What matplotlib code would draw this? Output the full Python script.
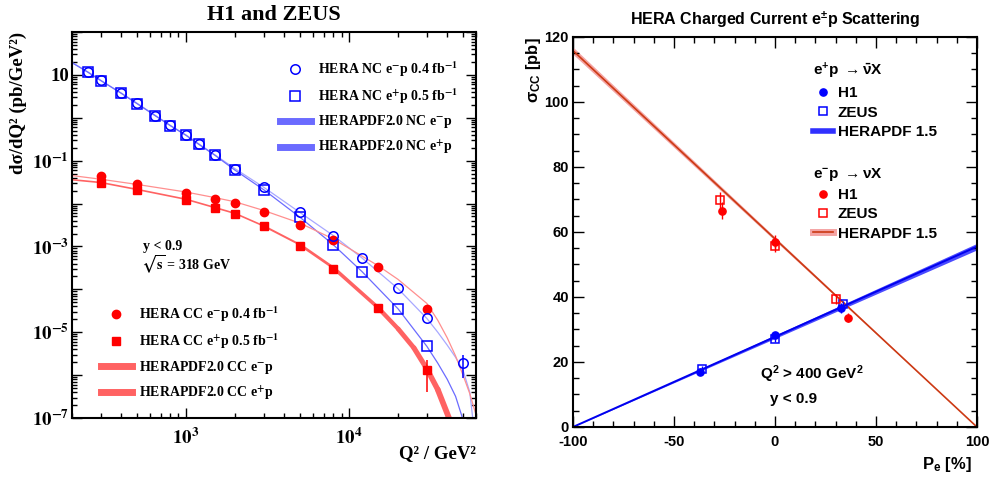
import numpy as np
import matplotlib
matplotlib.use('Agg')
import matplotlib.pyplot as plt
from matplotlib.lines import Line2D
from matplotlib.collections import LineCollection
from matplotlib.font_manager import FontProperties
from matplotlib.ticker import MultipleLocator

plt.rcParams['font.family'] = ['Liberation Sans', 'DejaVu Sans']
plt.rcParams['font.weight'] = 'bold'
plt.rcParams['axes.labelweight'] = 'bold'
plt.rcParams['axes.unicode_minus'] = False
plt.rcParams['mathtext.fontset'] = 'custom'
plt.rcParams['mathtext.rm'] = 'Liberation Sans:bold'
plt.rcParams['mathtext.it'] = 'Liberation Sans:bold'
plt.rcParams['mathtext.bf'] = 'Liberation Sans:bold'

# ---------------- left panel data: dsigma/dQ2 (pb/GeV^2) ----------------
nc_em_q2 = [250, 300, 400, 500, 650, 800, 1000, 1200, 1500, 2000, 3000, 5000, 8000, 12000, 20000, 30000, 50000]
nc_em = [11.8, 7.5, 3.8, 2.2, 1.13, 0.67, 0.40, 0.246, 0.138, 0.065, 0.024, 6.3e-3, 1.8e-3, 5.5e-4, 1.05e-4, 2.1e-5, 1.9e-6]
nc_em_err = [0, 0, 0, 0, 0, 0, 0, 0, 0, 0, 0, 0, 0, 0, 0, 0, 1.05e-6]

nc_ep_q2 = [250, 300, 400, 500, 650, 800, 1000, 1200, 1500, 2000, 3000, 5000, 8000, 12000, 20000, 30000]
nc_ep = [11.6, 7.4, 3.75, 2.15, 1.11, 0.66, 0.39, 0.24, 0.135, 0.060, 0.021, 4.8e-3, 1.1e-3, 2.6e-4, 3.5e-5, 4.9e-6]

cc_q2 = [300, 500, 1000, 1500, 2000, 3000, 5000, 8000, 15000, 30000]
cc_em = [0.044, 0.029, 0.018, 0.013, 0.0102, 0.0062, 3.2e-3, 1.45e-3, 3.4e-4, 3.4e-5]
cc_ep = [0.031, 0.021, 0.0123, 0.0078, 0.0057, 0.0030, 1.05e-3, 3.0e-4, 3.7e-5, 1.3e-6]
cc_ep_err = [0, 0, 0, 0, 0, 0, 0, 0, 0, 0.9e-6]

# HERAPDF2.0 predictions
pdf_nc_em_q2 = [200, 250, 300, 400, 500, 650, 800, 1000, 1200, 1500, 2000, 3000, 5000, 8000, 12000,
                20000, 30000, 35000, 40000, 45000, 50000, 55000, 57500]
pdf_nc_em = [19.5, 11.8, 7.5, 3.8, 2.2, 1.13, 0.67, 0.40, 0.246, 0.138, 0.065, 0.024, 6.2e-3, 1.8e-3, 5.4e-4,
             1.03e-4, 2.1e-5, 1.0e-5, 5.0e-6, 2.6e-6, 1.3e-6, 4e-7, 9e-8]
pdf_nc_ep_q2 = [200, 250, 300, 400, 500, 650, 800, 1000, 1200, 1500, 2000, 3000, 5000, 8000, 12000,
                20000, 30000, 35000, 40000, 45000, 49600]
pdf_nc_ep = [19.3, 11.6, 7.4, 3.75, 2.15, 1.11, 0.66, 0.39, 0.24, 0.135, 0.060, 0.021, 4.8e-3, 1.1e-3, 2.6e-4,
             3.5e-5, 4.7e-6, 1.9e-6, 8e-7, 3.2e-7, 1e-7]
pdf_cc_em_q2 = [200, 300, 500, 1000, 1500, 2000, 3000, 5000, 8000, 15000, 20000, 30000, 35000, 40000,
                45000, 50000, 55000, 60000]
pdf_cc_em = [0.045, 0.037, 0.028, 0.0186, 0.0138, 0.011, 0.0069, 3.5e-3, 1.5e-3, 3.6e-4, 1.7e-4, 4.7e-5,
             1.9e-5, 7.4e-6, 2.8e-6, 1.0e-6, 3.7e-7, 1.2e-7]
pdf_cc_ep_q2 = [200, 300, 500, 1000, 1500, 2000, 3000, 5000, 8000, 15000, 20000, 25000, 30000, 35000, 41000]
pdf_cc_ep = [0.036, 0.031, 0.0214, 0.0126, 0.0081, 0.0059, 0.0030, 1.1e-3, 3.2e-4, 3.8e-5, 1.2e-5, 4.3e-6,
             1.4e-6, 4.6e-7, 1e-7]

# ---------------- right panel data: sigma_CC vs Pe ----------------
h1_ep_pol = [-37, 0, 32.5]
h1_ep_sig = [17.0, 28.3, 36.5]
h1_ep_err = [1.0, 1.0, 1.5]
zeus_ep_pol = [-36, 0, 33.5]
zeus_ep_sig = [17.8, 27.2, 37.8]
zeus_ep_err = [1.0, 1.0, 1.0]
h1_em_pol = [-26, 0, 36]
h1_em_sig = [66.5, 57.0, 33.6]
h1_em_err = [2.6, 2.0, 1.4]
zeus_em_pol = [-27, 0, 30]
zeus_em_sig = [69.8, 55.7, 39.4]
zeus_em_err = [2.5, 2.0, 1.5]

pol_line = [-100, 100]
pdf15_ep = [0.0, 55.5]
pdf15_ep_band = [0.0, 1.0]
pdf15_em = [115.8, 0.0]
pdf15_em_band = [1.1, 0.0]

# ---------------- figure ----------------
fig = plt.figure(figsize=(9.98, 4.78), dpi=100)
axL = fig.add_axes([0.0721, 0.1255, 0.4048, 0.8075])
axR = fig.add_axes([0.5741, 0.1067, 0.4048, 0.8159])

serif = ['Liberation Serif', 'DejaVu Serif']
sfont = FontProperties(family=serif, weight='bold', size=10, math_fontfamily='stix')

# curves
axL.plot(pdf_nc_em_q2, pdf_nc_em, color='#a8a8ff', lw=0.9)
axL.plot(pdf_nc_ep_q2, pdf_nc_ep, color='#6b6bff', lw=0.9)
axL.plot(pdf_cc_em_q2, pdf_cc_em, color='#ff8f8f', lw=0.9)
pts = np.column_stack([pdf_cc_ep_q2, pdf_cc_ep])
segs = np.stack([pts[:-1], pts[1:]], axis=1)
mid = np.log10(np.sqrt(pts[:-1, 0] * pts[1:, 0]))
widths = np.interp(mid, [3.5, 4.2, 4.6], [1.2, 3.0, 4.2])
axL.add_collection(LineCollection(segs, linewidths=widths, colors='#ff6262', capstyle='round'))

# data points
axL.errorbar(nc_em_q2, nc_em, yerr=nc_em_err, fmt='o', mfc='none', mec='blue', ecolor='blue',
             ms=6.8, mew=1.1, elinewidth=1.1)
axL.plot(nc_ep_q2, nc_ep, 's', mfc='none', mec='blue', ms=6.5, mew=1.1)
axL.plot(cc_q2, cc_em, 'o', color='red', ms=6)
axL.errorbar(cc_q2, cc_ep, yerr=cc_ep_err, fmt='s', color='red', ecolor='red', ms=5.6, elinewidth=1.1)

axL.set_xscale('log')
axL.set_yscale('log')
axL.set_xlim(200, 60000)
axL.set_ylim(1e-7, 1e2)

ymaj = [10.0 ** e for e in range(-7, 3)]
ylab = [r'$\mathbf{10^{-7}}$', '', r'$\mathbf{10^{-5}}$', '', r'$\mathbf{10^{-3}}$', '',
        r'$\mathbf{10^{-1}}$', '', '10', '']
axL.set_yticks(ymaj, labels=ylab, fontfamily=serif, fontweight='bold', fontsize=13.5,
               math_fontfamily='stix')
axL.set_yticks([s * 10.0 ** e for e in range(-7, 2) for s in range(2, 10)], minor=True)
axL.set_xticks([1e3, 1e4], labels=[r'$\mathbf{10^{3}}$', r'$\mathbf{10^{4}}$'], fontfamily=serif,
               fontweight='bold', fontsize=13.5, math_fontfamily='stix')
axL.set_xticks([s * 10.0 ** e for e in range(2, 5) for s in range(2, 10) if 200 <= s * 10.0 ** e <= 60000],
               minor=True)
axL.tick_params(which='both', direction='in', top=True, right=True, width=1.0)
axL.tick_params(which='major', length=7)
axL.tick_params(which='minor', length=3.5)
axL.tick_params(axis='x', pad=7)
axL.tick_params(axis='y', pad=2)
for s in axL.spines.values():
    s.set_linewidth(1.5)

axL.set_ylabel('dσ/dQ² (pb/GeV²)', fontfamily=serif, fontweight='bold', fontsize=13.5, loc='top')
axL.yaxis.set_label_coords(-0.112, 1.0)
axL.set_xlabel('Q² / GeV²', fontfamily=serif, fontweight='bold', fontsize=13.5, loc='right')
axL.xaxis.set_label_coords(1.0, -0.07)

axL.text(0.176, 0.444, 'y < 0.9', transform=axL.transAxes, fontproperties=sfont, va='center')
axL.text(0.171, 0.396, r'$\sqrt{\mathbf{s}}$ = 318 GeV', transform=axL.transAxes, fontproperties=sfont,
         va='center')

nc_handles = [Line2D([], [], marker='o', ls='none', mfc='none', mec='blue', ms=6.8, mew=1.1),
              Line2D([], [], marker='s', ls='none', mfc='none', mec='blue', ms=6.5, mew=1.1),
              Line2D([], [], color='#6b6bff', lw=5),
              Line2D([], [], color='#6b6bff', lw=5)]
nc_labels = [r'HERA NC e$^{\mathbf{-}}$p 0.4 fb$^{\mathbf{-1}}$', r'HERA NC e$^{\mathbf{+}}$p 0.5 fb$^{\mathbf{-1}}$',
             r'HERAPDF2.0 NC e$^{\mathbf{-}}$p', r'HERAPDF2.0 NC e$^{\mathbf{+}}$p']
legL1 = axL.legend(nc_handles, nc_labels, prop=sfont, frameon=False, loc='center left',
                   bbox_to_anchor=(0.515, 0.803), borderpad=0, borderaxespad=0,
                   handlelength=2.2, handletextpad=0.55, labelspacing=0.55)
axL.add_artist(legL1)
cc_handles = [Line2D([], [], marker='o', ls='none', color='red', ms=6),
              Line2D([], [], marker='s', ls='none', color='red', ms=5.6),
              Line2D([], [], color='#ff6262', lw=5),
              Line2D([], [], color='#ff6262', lw=5)]
cc_labels = [r'HERA CC e$^{\mathbf{-}}$p 0.4 fb$^{\mathbf{-1}}$', r'HERA CC e$^{\mathbf{+}}$p 0.5 fb$^{\mathbf{-1}}$',
             r'HERAPDF2.0 CC e$^{\mathbf{-}}$p', r'HERAPDF2.0 CC e$^{\mathbf{+}}$p']
axL.legend(cc_handles, cc_labels, prop=sfont, frameon=False, loc='center left',
           bbox_to_anchor=(0.072, 0.167), borderpad=0, borderaxespad=0,
           handlelength=2.2, handletextpad=0.55, labelspacing=0.55)

fig.text(0.2745, 0.969, 'H1 and ZEUS', fontfamily=serif, fontweight='bold', fontsize=16,
         ha='center', va='center')

# ---------------- right panel ----------------
ep_lo = np.array(pdf15_ep) - np.array(pdf15_ep_band)
ep_hi = np.array(pdf15_ep) + np.array(pdf15_ep_band)
em_lo = np.array(pdf15_em) - np.array(pdf15_em_band)
em_hi = np.array(pdf15_em) + np.array(pdf15_em_band)
axR.fill_between(pol_line, em_lo, em_hi, color='#f4a4a4', lw=0)
axR.plot(pol_line, pdf15_em, color='#cc3a14', lw=1.2)
axR.fill_between(pol_line, ep_lo, ep_hi, color='#4a4aff', lw=0)
axR.plot(pol_line, pdf15_ep, color='#0000ee', lw=1.4)

axR.errorbar(h1_ep_pol, h1_ep_sig, yerr=h1_ep_err, fmt='o', color='blue', ms=5.2, elinewidth=1)
axR.errorbar(zeus_ep_pol, zeus_ep_sig, yerr=zeus_ep_err, fmt='s', mfc='none', mec='blue', ecolor='blue',
             ms=6, mew=1.1, elinewidth=1)
axR.errorbar(h1_em_pol, h1_em_sig, yerr=h1_em_err, fmt='o', color='red', ms=5.2, elinewidth=1)
axR.errorbar(zeus_em_pol, zeus_em_sig, yerr=zeus_em_err, fmt='s', mfc='none', mec='red', ecolor='red',
             ms=6, mew=1.1, elinewidth=1)

axR.set_xlim(-100, 100)
axR.set_ylim(0, 120)
axR.xaxis.set_major_locator(MultipleLocator(50))
axR.xaxis.set_minor_locator(MultipleLocator(10))
axR.yaxis.set_major_locator(MultipleLocator(20))
axR.yaxis.set_minor_locator(MultipleLocator(5))
axR.tick_params(which='both', direction='in', top=True, right=True, width=1.0, labelsize=10.5)
axR.tick_params(which='major', length=8)
axR.tick_params(which='minor', length=4)
axR.tick_params(axis='x', pad=6)
axR.tick_params(axis='y', pad=3)
for s in axR.spines.values():
    s.set_linewidth(1.5)

axR.set_ylabel(r'$\sigma_{\mathrm{CC}}$ [pb]', fontsize=12, fontweight='bold', loc='top')
axR.yaxis.set_label_coords(-0.075, 1.0)
axR.set_xlabel(r'P$_{\mathrm{e}}$ [%]', fontsize=12, fontweight='bold', loc='right')
axR.xaxis.set_label_coords(0.988, -0.072)

axR.text(0.463, 0.136, r'Q$^{2}$ > 400 GeV$^{2}$', transform=axR.transAxes, fontsize=11, va='center')
axR.text(0.488, 0.072, 'y < 0.9', transform=axR.transAxes, fontsize=11, va='center')

fig.text(0.7766, 0.958, r'HERA Charged Current e$^{\pm}$p Scattering', fontsize=11.5,
         ha='center', va='center')

rfont = FontProperties(family=['Liberation Sans', 'DejaVu Sans'], weight='bold', size=11)
ep_handles = [Line2D([], [], marker='o', ls='none', color='blue', ms=5.2),
              Line2D([], [], marker='s', ls='none', mfc='none', mec='blue', ms=6, mew=1.1),
              Line2D([], [], color='#3030ff', lw=4)]
legR1 = axR.legend(ep_handles, ['H1', 'ZEUS', 'HERAPDF 1.5'], prop=rfont, title_fontproperties=rfont,
                   title=r'e$^{+}$p $\rightarrow\bar{\nu}$X', alignment='left', frameon=False,
                   loc='center left', bbox_to_anchor=(0.595, 0.839), borderpad=0, borderaxespad=0,
                   handlelength=1.3, handletextpad=0.3, labelspacing=0.35)
axR.add_artist(legR1)
em_handles = [Line2D([], [], marker='o', ls='none', color='red', ms=5.2),
              Line2D([], [], marker='s', ls='none', mfc='none', mec='red', ms=6, mew=1.1),
              (Line2D([], [], color='#f4a4a4', lw=5), Line2D([], [], color='#cc3a14', lw=1.2))]
axR.legend(em_handles, ['H1', 'ZEUS', 'HERAPDF 1.5'], prop=rfont, title_fontproperties=rfont,
           title=r'e$^{-}$p $\rightarrow\nu$X', alignment='left', frameon=False,
           loc='center left', bbox_to_anchor=(0.595, 0.574), borderpad=0, borderaxespad=0,
           handlelength=1.3, handletextpad=0.3, labelspacing=0.35)

fig.savefig('out.png', dpi=100)
